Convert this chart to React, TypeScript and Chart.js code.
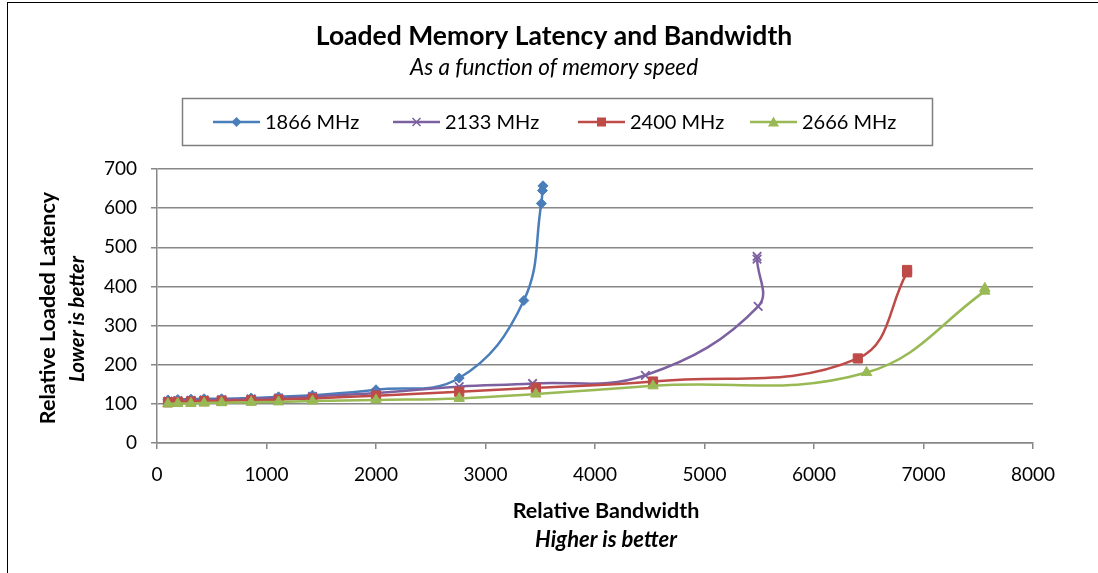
import React, { useEffect, useRef } from "react";
import { Chart, registerables } from "chart.js";

Chart.register(...registerables);

const TITLE = "Loaded Memory Latency and Bandwidth";
const SUBTITLE = "As a function of memory speed";
const X_TITLE = "Relative Bandwidth";
const X_SUBTITLE = "Higher is better";
const Y_TITLE = "Relative Loaded Latency";
const Y_SUBTITLE = "Lower is better";

const seriesNames = ["1866 MHz", "2133 MHz", "2400 MHz", "2666 MHz"];
const seriesColors = ["#4A7EBB", "#7D60A0", "#BE4B48", "#98B954"];

const bw1866 = [100, 190, 310, 430, 590, 860, 1110, 1420, 2000, 2760, 3350, 3510, 3520, 3525];
const lat1866 = [110, 111, 112, 113, 113, 115, 118, 122, 136, 166, 364, 612, 645, 657];

const bw2133 = [100, 190, 310, 430, 590, 860, 1110, 1420, 2000, 2760, 3430, 4460, 5490, 5480, 5480];
const lat2133 = [107, 108, 109, 110, 111, 113, 115, 119, 128, 144, 152, 173, 349, 470, 477];

const bw2400 = [100, 190, 310, 430, 590, 860, 1110, 1420, 2000, 2760, 3460, 4530, 6400, 6850, 6850];
const lat2400 = [104, 105, 106, 107, 108, 109, 111, 114, 121, 131, 141, 157, 216, 436, 442];

const bw2666 = [100, 190, 310, 430, 590, 860, 1110, 1420, 2000, 2760, 3460, 4530, 6480, 7560, 7560];
const lat2666 = [100, 101, 101, 102, 103, 104, 105, 107, 110, 114, 125, 146, 180, 388, 395];

const X_MIN = 0;
const X_MAX = 8000;
const X_STEP = 1000;
const Y_MIN = 0;
const Y_MAX = 700;
const Y_STEP = 100;

const FONT = "Lato, 'Open Sans', sans-serif";
const GRID = "#878787";

const toPoints = (xs: number[], ys: number[]) => xs.map((x, i) => ({ x, y: ys[i] }));

function drawMarker(ctx: CanvasRenderingContext2D, kind: number, x: number, y: number, color: string) {
  ctx.save();
  ctx.fillStyle = color;
  ctx.strokeStyle = color;
  ctx.beginPath();
  if (kind === 0) {
    const r = 5;
    ctx.moveTo(x, y - r);
    ctx.lineTo(x + r, y);
    ctx.lineTo(x, y + r);
    ctx.lineTo(x - r, y);
    ctx.closePath();
    ctx.fill();
  } else if (kind === 1) {
    const r = 4;
    ctx.lineWidth = 1.5;
    ctx.moveTo(x - r, y - r);
    ctx.lineTo(x + r, y + r);
    ctx.moveTo(x + r, y - r);
    ctx.lineTo(x - r, y + r);
    ctx.stroke();
  } else if (kind === 2) {
    const r = 4.5;
    ctx.rect(x - r, y - r, 2 * r, 2 * r);
    ctx.fill();
  } else {
    const r = 5.5;
    ctx.moveTo(x, y - r);
    ctx.lineTo(x + r, y + r * 0.8);
    ctx.lineTo(x - r, y + r * 0.8);
    ctx.closePath();
    ctx.fill();
  }
  ctx.restore();
}

const overlayPlugin = {
  id: "overlay",
  afterDraw(chart: any) {
    const ctx: CanvasRenderingContext2D = chart.ctx;
    ctx.save();
    ctx.fillStyle = "#000";
    ctx.textAlign = "center";
    ctx.textBaseline = "middle";
    ctx.font = `bold 26.5px ${FONT}`;
    ctx.fillText(TITLE, 554, 36);
    ctx.font = `italic 22.5px ${FONT}`;
    ctx.fillText(SUBTITLE, 554, 68);

    // legend box
    ctx.strokeStyle = "#7f7f7f";
    ctx.lineWidth = 1.5;
    ctx.strokeRect(182.5, 98.5, 750, 47);
    const itemX = [213, 393, 578, 750];
    ctx.textAlign = "left";
    ctx.font = `20px ${FONT}`;
    for (let i = 0; i < seriesNames.length; i++) {
      const x0 = itemX[i];
      const y0 = 122;
      ctx.strokeStyle = seriesColors[i];
      ctx.lineWidth = 2.5;
      ctx.beginPath();
      ctx.moveTo(x0, y0);
      ctx.lineTo(x0 + 47, y0);
      ctx.stroke();
      drawMarker(ctx, i, x0 + 23.5, y0, seriesColors[i]);
      ctx.fillStyle = "#000";
      ctx.fillText(seriesNames[i], x0 + 52, y0 + 1);
    }

    // x axis titles
    ctx.textAlign = "center";
    ctx.font = `bold 21.5px ${FONT}`;
    ctx.fillText(X_TITLE, 606, 511);
    ctx.font = `italic bold 22px ${FONT}`;
    ctx.fillText(X_SUBTITLE, 606, 540);

    // y axis titles
    ctx.save();
    ctx.translate(48, 308);
    ctx.rotate(-Math.PI / 2);
    ctx.font = `bold 21.5px ${FONT}`;
    ctx.fillText(Y_TITLE, 0, 0);
    ctx.restore();
    ctx.save();
    ctx.translate(77, 319);
    ctx.rotate(-Math.PI / 2);
    ctx.font = `italic bold 20.5px ${FONT}`;
    ctx.fillText(Y_SUBTITLE, 0, 0);
    ctx.restore();

    ctx.restore();
  },
};

export default function App() {
  const ref = useRef<HTMLCanvasElement>(null);

  useEffect(() => {
    if (!ref.current) return;
    const xs = [bw1866, bw2133, bw2400, bw2666];
    const ys = [lat1866, lat2133, lat2400, lat2666];
    const styles = ["rectRot", "crossRot", "rect", "triangle"];
    const radii = [5, 6, 6.5, 6];
    const chart = new Chart(ref.current, {
      type: "scatter",
      data: {
        datasets: seriesNames.map((name, i) => ({
          label: name,
          data: toPoints(xs[i], ys[i]),
          showLine: true,
          tension: 0.4,
          borderColor: seriesColors[i],
          backgroundColor: seriesColors[i],
          borderWidth: 2.5,
          pointStyle: styles[i] as any,
          pointRadius: radii[i],
          pointBorderWidth: i === 1 ? 1.8 : 1,
          pointBorderColor: seriesColors[i],
          pointBackgroundColor: seriesColors[i],
          order: seriesNames.length - i,
        })),
      },
      options: {
        responsive: false,
        animation: false,
        devicePixelRatio: 1,
        layout: { padding: { top: 169, right: 65, bottom: 0, left: 0 } },
        plugins: {
          legend: { display: false },
          tooltip: { enabled: false },
          title: { display: false },
        },
        scales: {
          x: {
            type: "linear",
            min: X_MIN,
            max: X_MAX,
            ticks: {
              stepSize: X_STEP,
              color: "#000",
              font: { family: FONT, size: 19 },
              padding: 14,
              callback: (v: any) => String(v),
            },
            grid: {
              drawOnChartArea: false,
              drawTicks: true,
              tickLength: 6,
              color: GRID,
              lineWidth: 1.5,
            },
            border: { color: GRID, width: 1.5 },
            afterFit: (s: any) => {
              s.height = 130;
            },
          },
          y: {
            type: "linear",
            min: Y_MIN,
            max: Y_MAX,
            ticks: {
              stepSize: Y_STEP,
              color: "#000",
              font: { family: FONT, size: 19 },
              padding: 14,
              callback: (v: any) => String(v),
            },
            grid: {
              color: GRID,
              lineWidth: 1.5,
              tickLength: 6,
            },
            border: { color: GRID, width: 1.5 },
            afterFit: (s: any) => {
              s.width = 157;
            },
          },
        },
      },
      plugins: [overlayPlugin],
    });
    return () => chart.destroy();
  }, []);

  return (
    <div
      style={{
        position: "fixed",
        left: 0,
        top: 0,
        width: 1098,
        height: 573,
        overflow: "hidden",
        background: "#fff",
      }}
    >
      <div
        style={{
          position: "absolute",
          left: 7,
          top: 2,
          width: 1300,
          height: 800,
          borderLeft: "1px solid #000",
          borderTop: "1px solid #000",
        }}
      />
      <canvas
        ref={ref}
        width={1098}
        height={573}
        style={{ position: "absolute", left: 0, top: 0, width: 1098, height: 573 }}
      />
    </div>
  );
}
